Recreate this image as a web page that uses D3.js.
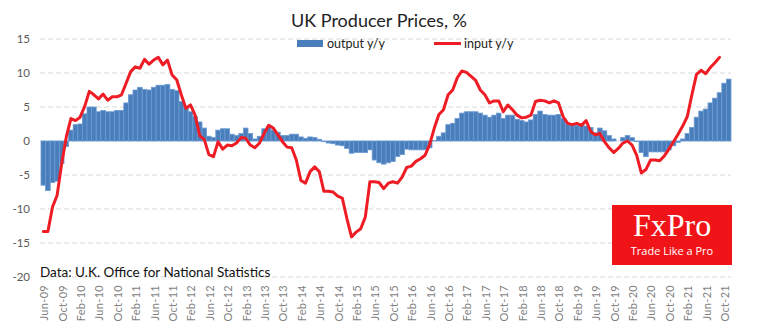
<!DOCTYPE html>
<html>
<head>
<meta charset="utf-8">
<script src="https://cdn.jsdelivr.net/npm/d3@7"></script>
<style>
  body { margin: 0; background: #fff; }
  svg { display: block; }
</style>
</head>
<body>
<div id="main"></div>
<script>
// monthly y/y change, Jun-09 .. Nov-21
var outputYY = [
  -6.5, -7.3, -6.1, -5.9, -3.3, -0.8, 1.6, 2.4, 2.5, 4.0,
  5.0, 5.0, 4.3, 4.5, 4.3, 4.3, 4.5, 4.5, 5.6, 6.8,
  7.5, 7.9, 7.6, 7.5, 7.9, 8.2, 8.2, 8.3, 7.6, 7.4,
  5.8, 5.0, 4.3, 3.6, 2.8, 1.9, 0.7, 0.5, 1.6, 1.8,
  1.8, 1.0, 0.8, 1.1, 1.9, 1.1, 0.3, 0.7, 1.8, 2.1,
  1.6, 1.3, 0.8, 0.8, 1.0, 1.0, 0.6, 0.4, 0.6, 0.5,
  0.25, -0.1, -0.3, -0.4, -0.6, -0.7, -1.1, -1.8, -1.7, -1.7,
  -1.7, -1.3, -2.8, -3.2, -3.4, -3.2, -3.0, -2.3, -2.0, -1.2,
  -1.3, -1.3, -1.3, -1.3, -1.0, 0.05, 0.7, 1.2, 2.4, 2.6,
  3.3, 4.1, 4.3, 4.3, 4.3, 4.1, 3.8, 3.5, 3.8, 4.1,
  3.3, 3.8, 3.8, 3.2, 3.0, 2.8, 3.1, 3.9, 4.4, 3.9,
  3.8, 3.8, 3.9, 3.3, 2.5, 2.3, 2.3, 2.5, 2.2, 2.0,
  1.2, 1.9, 1.5, 0.8, 0.3, 0.0, 0.5, 0.8, 0.5, -0.1,
  -1.7, -2.3, -1.6, -1.6, -1.6, -1.6, -1.3, -0.7, -0.2, 0.3,
  1.1, 2.0, 3.5, 4.4, 4.7, 5.6, 6.3, 7.1, 8.5, 9.1
];

// input prices, Jun-09 .. Sep-21
var inputYY = [
  -13.3, -13.3, -9.7, -8.0, -3.3, 0.6, 3.3, 3.0, 3.5, 5.1,
  7.3, 6.8, 6.2, 6.9, 6.0, 6.5, 6.5, 6.8, 8.5, 10.2,
  10.9, 10.7, 12.0, 11.3, 11.9, 12.3, 11.2, 11.9, 9.7, 9.0,
  6.8, 4.8, 5.3, 3.8, 0.8, 0.2, -2.0, -2.3, -0.1, -1.2,
  -0.6, -0.7, -0.3, 0.5, 0.4, -0.6, -1.0, -0.3, 1.1, 2.3,
  1.9, 0.9, -0.1, -0.9, -1.0, -2.8, -5.8, -6.2, -4.5, -3.8,
  -4.5, -7.4, -7.4, -7.5, -8.1, -8.4, -11.4, -14.1, -13.4, -12.9,
  -11.2, -6.0, -6.0, -6.1, -7.0, -6.2, -6.0, -6.2, -5.3, -3.9,
  -3.7, -3.0, -2.6, -2.1, -0.5, 1.9, 3.9, 4.6, 6.8, 7.5,
  9.3, 10.3, 10.1, 9.5, 8.9, 7.5, 6.8, 5.6, 5.9, 5.9,
  4.3, 5.3, 4.6, 3.8, 3.4, 3.5, 3.8, 5.8, 6.0, 5.9,
  5.6, 5.9, 5.6, 3.6, 2.6, 2.4, 2.6, 2.3, 3.0, 1.4,
  0.9, 1.1, -0.1, -1.0, -1.7, -1.1, -0.3, 0.0, -0.6, -2.1,
  -4.7, -4.2, -2.8, -2.8, -2.9, -2.2, -1.2, -0.1, 1.0, 2.2,
  3.6, 6.8, 9.8, 10.4, 9.9, 10.8, 11.5, 12.3
];

var yTicks = [-20, -15, -10, -5, 0, 5, 10, 15];
var months = d3.timeMonth.range(new Date(2009, 5, 1), new Date(2021, 11, 1))
  .map(d3.timeFormat("%b-%y"));
var seriesNames = ["output y/y", "input y/y"];

var width = 772, height = 331;
var barColor = "#4a7ebb", lineColor = "#ee1c25";
var font = "Lato, 'Open Sans', sans-serif";

var svg = d3.select("#main").append("svg")
  .attr("width", width)
  .attr("height", height)
  .style("font-family", font);

var x = d3.scaleBand().domain(months).range([41, 731]).padding(0);
var y = d3.scaleLinear().domain([-20, 15]).range([277, 39]);
var bw = x.bandwidth();

// dashed grid
svg.append("g").selectAll("line")
  .data(yTicks)
  .enter().append("line")
    .attr("x1", 40).attr("x2", 731)
    .attr("y1", function(d) { return y(d); })
    .attr("y2", function(d) { return y(d); })
    .attr("stroke", "#d9d9d9")
    .attr("stroke-dasharray", "5,3");

// y labels
svg.append("g").selectAll("text")
  .data(yTicks)
  .enter().append("text")
    .attr("x", 30)
    .attr("y", function(d) { return y(d) + 4; })
    .attr("text-anchor", "end")
    .attr("fill", "#595959")
    .style("font-size", "11.5px")
    .text(function(d) { return d; });

// x labels, every 4th month
svg.append("g").selectAll("text")
  .data(months.filter(function(m, i) { return i % 4 === 0; }))
  .enter().append("text")
    .attr("transform", function(d) {
      return "translate(" + (x(d) + bw / 2 + 1) + ",285) rotate(-90)";
    })
    .attr("dy", "0.35em")
    .attr("text-anchor", "end")
    .attr("fill", "#7f7f7f")
    .style("font-size", "11px")
    .style("letter-spacing", "0.3px")
    .text(function(d) { return d; });

// output bars
svg.append("g").selectAll("rect")
  .data(outputYY)
  .enter().append("rect")
    .attr("x", function(d, i) { return x(months[i]); })
    .attr("width", bw)
    .attr("y", function(d) { return Math.min(y(d), y(0)); })
    .attr("height", function(d) { return Math.abs(y(d) - y(0)); })
    .attr("fill", barColor)
    .attr("stroke", "#6b9bd4")
    .attr("stroke-width", 0.8);

// input line
var line = d3.line()
  .x(function(d, i) { return x(months[i]) + bw / 2; })
  .y(function(d) { return y(d); });

svg.append("path")
  .datum(inputYY)
  .attr("d", line)
  .attr("fill", "none")
  .attr("stroke", lineColor)
  .attr("stroke-width", 3)
  .attr("stroke-linejoin", "round")
  .attr("stroke-linecap", "round");

// title
svg.append("text")
  .attr("x", 379).attr("y", 27)
  .attr("text-anchor", "middle")
  .attr("fill", "#222")
  .style("font-size", "18px")
  .text("UK Producer Prices, %");

// legend
var legend = svg.append("g");
legend.append("rect")
  .attr("x", 297).attr("y", 40).attr("width", 26).attr("height", 7)
  .attr("fill", barColor);
legend.append("text")
  .attr("x", 327).attr("y", 48)
  .attr("fill", "#222")
  .style("font-size", "12.5px")
  .text(seriesNames[0]);
legend.append("line")
  .attr("x1", 434).attr("x2", 461).attr("y1", 43.5).attr("y2", 43.5)
  .attr("stroke", lineColor).attr("stroke-width", 3);
legend.append("text")
  .attr("x", 464).attr("y", 48)
  .attr("fill", "#222")
  .style("font-size", "12.5px")
  .text(seriesNames[1]);

// source note
svg.append("text")
  .attr("x", 40).attr("y", 277)
  .attr("fill", "#111")
  .style("font-size", "13.5px")
  .text("Data: U.K. Office for National Statistics");

// logo
var logo = svg.append("g");
logo.append("rect")
  .attr("x", 612).attr("y", 205).attr("width", 120).attr("height", 60)
  .attr("fill", "#f01419");
logo.append("text")
  .attr("x", 672).attr("y", 236)
  .attr("text-anchor", "middle")
  .attr("fill", "#fff")
  .style("font-family", "'Liberation Serif', 'DejaVu Serif', serif")
  .style("font-size", "32px")
  .text("FxPro");
logo.append("text")
  .attr("x", 672).attr("y", 254.5)
  .attr("text-anchor", "middle")
  .attr("fill", "#fff")
  .style("font-family", "'Open Sans', sans-serif")
  .style("font-size", "11px")
  .text("Trade Like a Pro");
</script>
</body>
</html>
